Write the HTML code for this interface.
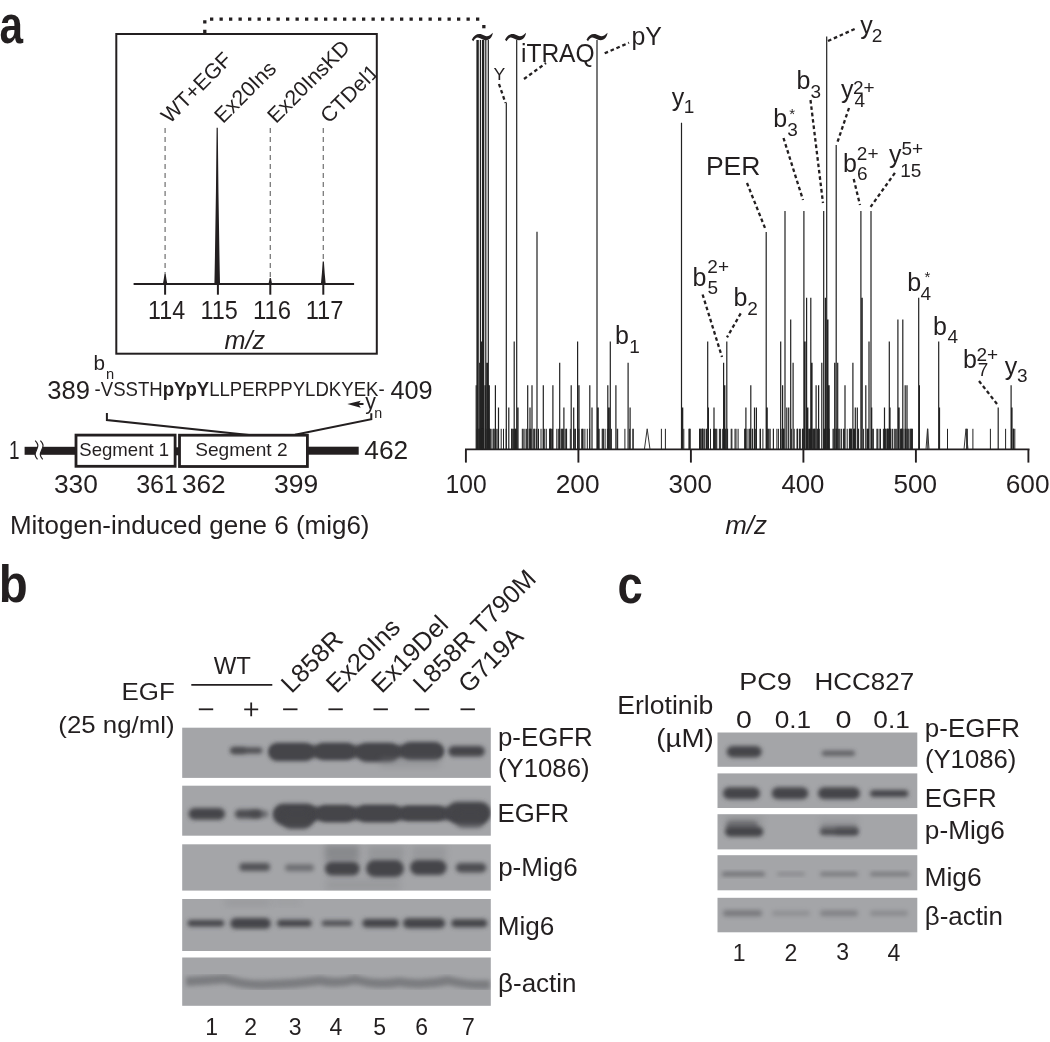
<!DOCTYPE html>
<html><head><meta charset="utf-8"><title>Figure</title>
<style>
html,body{margin:0;padding:0;background:#fff;}
svg{display:block;will-change:transform;font-family:"Liberation Sans",Arial,Helvetica,sans-serif;}
</style></head><body>
<svg width="1050" height="1042" viewBox="0 0 1050 1042">
<defs>
<clipPath id="cbB"><rect x="182.2" y="727.7" width="308.6" height="50.2"/><rect x="182.2" y="785.7" width="308.6" height="50"/><rect x="182.2" y="844.3" width="308.6" height="46.3"/><rect x="182.2" y="899" width="308.6" height="52"/><rect x="182.2" y="957.5" width="308.6" height="48.3"/></clipPath>
<clipPath id="cbC"><rect x="717.5" y="732.5" width="199.8" height="34.3"/><rect x="717.5" y="773.4" width="199.8" height="34.6"/><rect x="717.5" y="814.2" width="199.8" height="35.2"/><rect x="717.5" y="855.2" width="199.8" height="35.1"/><rect x="717.5" y="897.8" width="199.8" height="34.5"/></clipPath>
<clipPath id="cb"><rect x="117" y="34" width="259" height="320"/></clipPath>
<filter id="bl" x="-30%" y="-80%" width="160%" height="260%"><feGaussianBlur stdDeviation="1.9"/></filter>
<filter id="bl2" x="-30%" y="-50%" width="160%" height="200%"><feGaussianBlur stdDeviation="3"/></filter>
</defs>
<rect width="1050" height="1042" fill="#fff"/>
<g id="blots">
<rect x="182.2" y="727.7" width="308.6" height="50.2" fill="#a4a5a8"/>
<rect x="182.2" y="785.7" width="308.6" height="50" fill="#a4a5a8"/>
<rect x="182.2" y="844.3" width="308.6" height="46.3" fill="#a4a5a8"/>
<rect x="182.2" y="899" width="308.6" height="52" fill="#a4a5a8"/>
<rect x="182.2" y="957.5" width="308.6" height="48.3" fill="#a4a5a8"/>
<g clip-path="url(#cbB)">
<rect x="230.3" y="747.6" width="32.0" height="5.8" rx="2.9" ry="2.9" fill="#444548" opacity="0.9" filter="url(#bl)"/>
<rect x="231.0" y="747.2" width="15.0" height="6.8" rx="3.4" ry="3.4" fill="#444548" opacity="0.5" filter="url(#bl)"/>
<rect x="270.0" y="745.5" width="173.0" height="12.0" rx="6.0" ry="6.0" fill="#444548" opacity="1.0" filter="url(#bl)"/>
<rect x="268.4" y="742.9" width="45.6" height="18.2" rx="9.1" ry="9.1" fill="#444548" opacity="1.0" filter="url(#bl)"/>
<rect x="315.0" y="743.0" width="40.2" height="17.0" rx="8.5" ry="8.5" fill="#444548" opacity="1.0" filter="url(#bl)"/>
<rect x="356.8" y="743.0" width="42.6" height="19.0" rx="9.5" ry="9.5" fill="#444548" opacity="1.0" filter="url(#bl)"/>
<rect x="401.0" y="742.0" width="42.6" height="18.0" rx="9.0" ry="9.0" fill="#444548" opacity="1.0" filter="url(#bl)"/>
<rect x="448.2" y="746.0" width="36.6" height="10.6" rx="5.3" ry="5.3" fill="#444548" opacity="1.0" filter="url(#bl)"/>
<rect x="380" y="758" width="60" height="9" fill="#7d7e81" opacity="0.35" filter="url(#bl2)"/>
<rect x="188.5" y="808.1" width="36.6" height="11.6" rx="5.8" ry="5.8" fill="#444548" opacity="1.0" filter="url(#bl)"/>
<rect x="234.9" y="809.5" width="27.1" height="9.0" rx="4.5" ry="4.5" fill="#444548" opacity="0.9" filter="url(#bl)"/>
<rect x="250.0" y="810.5" width="18.4" height="7.0" rx="3.5" ry="3.5" fill="#444548" opacity="0.6" filter="url(#bl)"/>
<rect x="275.0" y="807.0" width="213.0" height="13.0" rx="6.5" ry="6.5" fill="#444548" opacity="1.0" filter="url(#bl)"/>
<rect x="273.0" y="803.8" width="44.2" height="21.4" rx="10.7" ry="10.7" fill="#444548" opacity="1.0" filter="url(#bl)"/>
<rect x="282.0" y="812.0" width="30.0" height="17.0" rx="8.5" ry="8.5" fill="#444548" opacity="0.9" filter="url(#bl)"/>
<rect x="317.0" y="805.3" width="38.0" height="16.7" rx="8.4" ry="8.4" fill="#444548" opacity="1.0" filter="url(#bl)"/>
<rect x="356.8" y="805.0" width="44.2" height="17.0" rx="8.5" ry="8.5" fill="#444548" opacity="1.0" filter="url(#bl)"/>
<rect x="401.0" y="806.0" width="44.0" height="14.6" rx="7.3" ry="7.3" fill="#444548" opacity="1.0" filter="url(#bl)"/>
<rect x="446.7" y="801.7" width="44.2" height="21.9" rx="10.9" ry="10.9" fill="#444548" opacity="1.0" filter="url(#bl)"/>
<rect x="455.0" y="812.0" width="30.0" height="16.0" rx="8.0" ry="8.0" fill="#444548" opacity="0.7" filter="url(#bl)"/>
<rect x="325" y="845" width="34" height="16" fill="#7d7e81" opacity="0.7" filter="url(#bl2)"/>
<rect x="368" y="846" width="36" height="14" fill="#7d7e81" opacity="0.35" filter="url(#bl2)"/>
<rect x="412" y="846" width="34" height="14" fill="#7d7e81" opacity="0.3" filter="url(#bl2)"/>
<rect x="326" y="879" width="74" height="12" fill="#7d7e81" opacity="0.25" filter="url(#bl2)"/>
<rect x="239.4" y="863.0" width="30.6" height="8.0" rx="4.0" ry="4.0" fill="#444548" opacity="0.85" filter="url(#bl)"/>
<rect x="285.0" y="864.3" width="29.0" height="7.0" rx="3.5" ry="3.5" fill="#444548" opacity="0.55" filter="url(#bl)"/>
<rect x="324.8" y="861.7" width="35.0" height="13.7" rx="6.8" ry="6.8" fill="#444548" opacity="1.0" filter="url(#bl)"/>
<rect x="366.0" y="860.0" width="38.0" height="17.0" rx="8.5" ry="8.5" fill="#444548" opacity="1.0" filter="url(#bl)"/>
<rect x="410.0" y="860.0" width="36.7" height="15.0" rx="7.5" ry="7.5" fill="#444548" opacity="1.0" filter="url(#bl)"/>
<rect x="455.8" y="863.0" width="30.5" height="9.4" rx="4.7" ry="4.7" fill="#444548" opacity="0.9" filter="url(#bl)"/>
<rect x="225" y="899" width="45" height="7" fill="#7d7e81" opacity="0.25" filter="url(#bl2)"/>
<rect x="275" y="899" width="25" height="6" fill="#7d7e81" opacity="0.15" filter="url(#bl2)"/>
<rect x="187.6" y="920.0" width="36.6" height="6.6" rx="3.3" ry="3.3" fill="#444548" opacity="1.0" filter="url(#bl)"/>
<rect x="230.3" y="918.0" width="40.5" height="10.8" rx="5.4" ry="5.4" fill="#444548" opacity="1.0" filter="url(#bl)"/>
<rect x="277.0" y="919.8" width="34.7" height="7.0" rx="3.5" ry="3.5" fill="#444548" opacity="1.0" filter="url(#bl)"/>
<rect x="321.7" y="920.6" width="30.5" height="5.4" rx="2.7" ry="2.7" fill="#444548" opacity="0.9" filter="url(#bl)"/>
<rect x="362.3" y="919.0" width="36.5" height="8.6" rx="4.3" ry="4.3" fill="#444548" opacity="1.0" filter="url(#bl)"/>
<rect x="403.0" y="918.3" width="42.2" height="10.0" rx="5.0" ry="5.0" fill="#444548" opacity="1.0" filter="url(#bl)"/>
<rect x="451.3" y="919.3" width="35.9" height="8.0" rx="4.0" ry="4.0" fill="#444548" opacity="1.0" filter="url(#bl)"/>
<path d="M186,981.5 Q205,980.5 225,979 Q247,986 268,984.5 Q295,984 320,980.5 Q338,984.5 355,979.5 Q378,986 399,982 Q423,986 448,980.5 Q470,986 490,984.5" fill="none" stroke="#77787b" stroke-width="9" opacity="0.9" filter="url(#bl)"/>
</g>
<rect x="717.5" y="732.5" width="199.8" height="34.3" fill="#a4a5a8"/>
<rect x="717.5" y="773.4" width="199.8" height="34.6" fill="#a4a5a8"/>
<rect x="717.5" y="814.2" width="199.8" height="35.2" fill="#a4a5a8"/>
<rect x="717.5" y="855.2" width="199.8" height="35.1" fill="#a4a5a8"/>
<rect x="717.5" y="897.8" width="199.8" height="34.5" fill="#a4a5a8"/>
<g clip-path="url(#cbC)">
<rect x="726.7" y="746.0" width="35.0" height="11.5" rx="5.8" ry="5.8" fill="#444548" opacity="1.0" filter="url(#bl)"/>
<rect x="821.7" y="750.8" width="33.3" height="5.0" rx="2.5" ry="2.5" fill="#444548" opacity="0.75" filter="url(#bl)"/>
<rect x="723.0" y="787.3" width="37.0" height="12.0" rx="6.0" ry="6.0" fill="#444548" opacity="1.0" filter="url(#bl)"/>
<rect x="771.7" y="787.3" width="36.6" height="12.0" rx="6.0" ry="6.0" fill="#444548" opacity="1.0" filter="url(#bl)"/>
<rect x="818.0" y="787.3" width="42.0" height="12.0" rx="6.0" ry="6.0" fill="#444548" opacity="1.0" filter="url(#bl)"/>
<rect x="870.0" y="790.0" width="38.3" height="7.0" rx="3.5" ry="3.5" fill="#444548" opacity="1.0" filter="url(#bl)"/>
<rect x="725" y="816" width="38" height="12" fill="#7d7e81" opacity="0.3" filter="url(#bl2)"/>
<rect x="726.0" y="820.5" width="32.0" height="10.5" rx="5.2" ry="5.2" fill="#444548" opacity="0.5" filter="url(#bl)"/>
<rect x="725.0" y="826.7" width="38.3" height="10.0" rx="5.0" ry="5.0" fill="#444548" opacity="1.0" filter="url(#bl)"/>
<rect x="821.0" y="824.0" width="36.0" height="7.0" rx="3.5" ry="3.5" fill="#444548" opacity="0.3" filter="url(#bl)"/>
<rect x="820.0" y="828.2" width="38.3" height="7.0" rx="3.5" ry="3.5" fill="#444548" opacity="0.9" filter="url(#bl)"/>
<rect x="835.0" y="827.2" width="23.3" height="7.3" rx="3.6" ry="3.6" fill="#444548" opacity="0.5" filter="url(#bl)"/>
<rect x="820" y="818" width="38" height="11" fill="#7d7e81" opacity="0.22" filter="url(#bl2)"/>
<rect x="722.0" y="872.3" width="43.0" height="3.7" rx="1.9" ry="1.9" fill="#444548" opacity="0.6" filter="url(#bl)"/>
<rect x="777.0" y="872.5" width="28.0" height="3.0" rx="1.5" ry="1.5" fill="#444548" opacity="0.35" filter="url(#bl)"/>
<rect x="820.0" y="872.2" width="38.0" height="3.8" rx="1.9" ry="1.9" fill="#444548" opacity="0.5" filter="url(#bl)"/>
<rect x="870.0" y="872.2" width="40.0" height="3.8" rx="1.9" ry="1.9" fill="#444548" opacity="0.5" filter="url(#bl)"/>
<rect x="723.0" y="910.3" width="39.0" height="6.0" rx="3.0" ry="3.0" fill="#444548" opacity="0.45" filter="url(#bl)"/>
<rect x="772.0" y="910.8" width="38.0" height="5.0" rx="2.5" ry="2.5" fill="#444548" opacity="0.22" filter="url(#bl)"/>
<rect x="820.0" y="910.3" width="38.0" height="6.0" rx="3.0" ry="3.0" fill="#444548" opacity="0.35" filter="url(#bl)"/>
<rect x="870.0" y="910.8" width="38.0" height="5.0" rx="2.5" ry="2.5" fill="#444548" opacity="0.28" filter="url(#bl)"/>
</g>
</g>
<g id="fg" fill="#231f20">
<text x="0" y="0" font-size="51" font-weight="bold" transform="translate(-0.6,43) scale(0.83,1)">a</text>
<text x="0" y="0" font-size="51" font-weight="bold" transform="translate(-1.3,602.4) scale(0.93,1)">b</text>
<text x="0" y="0" font-size="51" font-weight="bold" transform="translate(617.5,602.6) scale(0.89,1)">c</text>
<path d="M204.8,33 V19.2 H483.5" fill="none" stroke="#231f20" stroke-width="3.3" stroke-dasharray="3.3 6.2"/>
<rect x="482.2" y="25" width="3.3" height="3.3" fill="#231f20"/>
<rect x="116.3" y="34" width="260.5" height="319.7" fill="none" stroke="#231f20" stroke-width="2"/>
<line x1="133.6" y1="284.1" x2="354.1" y2="284.1" stroke="#231f20" stroke-width="2"/>
<line x1="165.1" y1="284" x2="165.1" y2="294.7" stroke="#231f20" stroke-width="2"/>
<text x="148.10" y="319.20" font-size="25" textLength="37.04" lengthAdjust="spacingAndGlyphs">114</text>
<line x1="217.9" y1="284" x2="217.9" y2="294.7" stroke="#231f20" stroke-width="2"/>
<text x="200.50" y="318.96" font-size="25" textLength="37.35" lengthAdjust="spacingAndGlyphs">115</text>
<line x1="270.3" y1="284" x2="270.3" y2="294.7" stroke="#231f20" stroke-width="2"/>
<text x="252.90" y="318.96" font-size="25" textLength="38.00" lengthAdjust="spacingAndGlyphs">116</text>
<line x1="323.3" y1="284" x2="323.3" y2="294.7" stroke="#231f20" stroke-width="2"/>
<text x="305.70" y="319.20" font-size="25" textLength="37.76" lengthAdjust="spacingAndGlyphs">117</text>
<text x="224.48" y="348.60" font-size="25.5" font-style="italic" textLength="40.57" lengthAdjust="spacingAndGlyphs">m/z</text>
<line x1="165.1" y1="128" x2="165.1" y2="274" stroke="#7a7a7a" stroke-width="1.3" stroke-dasharray="5 4"/>
<line x1="270.3" y1="128" x2="270.3" y2="278" stroke="#7a7a7a" stroke-width="1.3" stroke-dasharray="5 4"/>
<line x1="323.3" y1="128" x2="323.3" y2="261.6" stroke="#7a7a7a" stroke-width="1.3" stroke-dasharray="5 4"/>
<path d="M162.9,284 Q163.9,279.0 164.5,274 L165.7,274 Q166.29999999999998,279.0 167.29999999999998,284 Z" fill="#231f20"/>
<path d="M214.39999999999998,284 Q216.0,205.85 216.6,127.7 L217.79999999999998,127.7 Q218.39999999999998,205.85 220.0,284 Z" fill="#231f20"/>
<path d="M268.5,284 Q269.1,281.0 269.7,278 L270.90000000000003,278 Q271.5,281.0 272.1,284 Z" fill="#231f20"/>
<path d="M320.90000000000003,284 Q322.1,272.8 322.7,261.6 L323.90000000000003,261.6 Q324.5,272.8 325.7,284 Z" fill="#231f20"/>
<g clip-path="url(#cb)">
<text x="0" y="0" font-size="21.3" transform="translate(169.7,124.3) rotate(-45)">WT+EGF</text>
<text x="0" y="0" font-size="21.3" transform="translate(223,124.3) rotate(-45)">Ex20Ins</text>
<text x="0" y="0" font-size="21.3" transform="translate(275.9,124.3) rotate(-45)">Ex20InsKD</text>
<text x="0" y="0" font-size="21.3" transform="translate(329.1,124.3) rotate(-45)">CTDel1</text>
</g>
<line x1="465.0" y1="449.4" x2="1029.5" y2="449.4" stroke="#231f20" stroke-width="1.9"/>
<line x1="465.9" y1="449.4" x2="465.9" y2="462.6" stroke="#231f20" stroke-width="1.9"/>
<text x="445.62" y="493.05" font-size="26" textLength="41.10" lengthAdjust="spacingAndGlyphs">100</text>
<line x1="578.4" y1="449.4" x2="578.4" y2="462.6" stroke="#231f20" stroke-width="1.9"/>
<text x="555.69" y="493.05" font-size="26" textLength="43.82" lengthAdjust="spacingAndGlyphs">200</text>
<line x1="690.9" y1="449.4" x2="690.9" y2="462.6" stroke="#231f20" stroke-width="1.9"/>
<text x="668.51" y="493.05" font-size="26" textLength="43.51" lengthAdjust="spacingAndGlyphs">300</text>
<line x1="803.4" y1="449.4" x2="803.4" y2="462.6" stroke="#231f20" stroke-width="1.9"/>
<text x="781.40" y="493.05" font-size="26" textLength="43.11" lengthAdjust="spacingAndGlyphs">400</text>
<line x1="915.9" y1="449.4" x2="915.9" y2="462.6" stroke="#231f20" stroke-width="1.9"/>
<text x="893.46" y="493.05" font-size="26" textLength="43.56" lengthAdjust="spacingAndGlyphs">500</text>
<line x1="1028.4" y1="449.4" x2="1028.4" y2="462.6" stroke="#231f20" stroke-width="1.9"/>
<text x="1005.68" y="493.05" font-size="26" textLength="43.84" lengthAdjust="spacingAndGlyphs">600</text>
<text x="725.27" y="533.90" font-size="26" font-style="italic" textLength="41.79" lengthAdjust="spacingAndGlyphs">m/z</text>
<path d="M477.6,449.4V40 M483.1,449.4V40" stroke="#222" stroke-width="2.4" fill="none"/>
<path d="M480.4,449.4V40M485.8,449.4V40M488.3,449.4V40M479.7,449.4V362.7M481.5,449.4V341.5M485,449.4V385.3M487.1,449.4V362.7M489.3,449.4V385.3M476.2,449.4V385.3M495.4,449.4V385.3M498.5,449.4V407.5M506.3,449.4V102.7M508.8,449.4V407.5M514.2,449.4V341.5M516.7,449.4V40M518,449.4V407.5M527.7,449.4V385.3M530,449.4V407.5M532,449.4V385.3M537,449.4V231.7M543.3,449.4V385.3M552.9,449.4V385.3M559.7,449.4V362.7M563.9,449.4V407.5M571.2,449.4V385.3M573.7,449.4V407.5M577.6,449.4V341.5M579,449.4V385.3M589.8,449.4V385.3M592,449.4V407.5M597,449.4V40M598.2,449.4V407.5M607.8,449.4V385.3M609,449.4V407.5M610.3,449.4V341.5M615.9,449.4V385.3M628.1,449.4V362.7M630.1,449.4V407.5M681.5,449.4V122.7M682.7,449.4V407.5M707.7,449.4V341.5M708.4,449.4V407.5M714,449.4V407.5M723.6,449.4V362.7M724.8,449.4V385.3M726.8,449.4V341.5M745.9,449.4V407.5M750.8,449.4V385.3M754.5,449.4V407.5M756.4,449.4V407.5M766.2,449.4V232M767.2,449.4V407.5M780.7,449.4V341.5M782.6,449.4V385.3M785,449.4V211M786.8,449.4V407.5M788.7,449.4V407.5M790.7,449.4V319.6M793.1,449.4V362.7M803.9,449.4V211M805.1,449.4V341.5M806.6,449.4V297.7M807.8,449.4V407.5M810.8,449.4V297.7M812,449.4V362.7M816.1,449.4V385.3M818.6,449.4V385.3M821.8,449.4V362.7M823.7,449.4V211M825.4,449.4V297.7M826.7,449.4V36.5M827.9,449.4V319.6M829.1,449.4V385.3M834.7,449.4V362.7M836.2,449.4V145M837.7,449.4V362.7M845,449.4V385.3M852.9,449.4V362.7M855.3,449.4V407.5M857.3,449.4V407.5M860.9,449.4V211M862.2,449.4V297.7M865.8,449.4V385.3M869,449.4V341.5M871,449.4V211M871.7,449.4V407.5M884.5,449.4V407.5M889.3,449.4V341.5M890,449.4V407.5M897.9,449.4V319.6M899.1,449.4V407.5M902.8,449.4V319.6M905.2,449.4V385.3M907,449.4V385.3M918.7,449.4V297.7M919.4,449.4V385.3M938.7,449.4V341.5M939.5,449.4V407.5M998.2,449.4V407.5M1011.1,449.4V385.3M1012,449.4V407.5" stroke="#222" stroke-width="1.2" fill="none"/>
<path d="M516.7,449.4V428.8M493.9,449.4V428.8M559.9,449.4V428.8M483.6,449.4V428.8M544.7,449.4V428.8M522.3,449.4V428.8M481.7,449.4V428.8M541.0,449.4V428.8M478.9,449.4V428.8M531.2,449.4V428.8M483.2,449.4V428.8M486.0,449.4V428.8M530.0,449.4V428.8M583.1,449.4V428.8M490.3,449.4V428.8M503.5,449.4V428.8M556.8,449.4V428.8M599.1,449.4V428.8M550.2,449.4V428.8M526.4,449.4V428.8M602.9,449.4V428.8M480.1,449.4V428.8M587.3,449.4V428.8M512.2,449.4V428.8M493.0,449.4V428.8M489.5,449.4V428.8M514.7,449.4V428.8M581.7,449.4V428.8M497.9,449.4V428.8M550.8,449.4V428.8M558.3,449.4V428.8M523.2,449.4V428.8M546.3,449.4V428.8M482.3,449.4V428.8M481.9,449.4V428.8M501.2,449.4V428.8M563.8,449.4V428.8M530.4,449.4V428.8M515.5,449.4V428.8M551.3,449.4V428.8M533.8,449.4V428.8M513.6,449.4V428.8M578.9,449.4V428.8M566.3,449.4V428.8M506.2,449.4V428.8M549.8,449.4V428.8M543.3,449.4V428.8M589.5,449.4V428.8M570.3,449.4V428.8M512.0,449.4V428.8M603.4,449.4V428.8M489.6,449.4V428.8M529.2,449.4V428.8M573.9,449.4V428.8M494.1,449.4V428.8M538.5,449.4V428.8M479.2,449.4V428.8M562.2,449.4V428.8M574.9,449.4V428.8M549.6,449.4V428.8M589.6,449.4V428.8M515.4,449.4V428.8M565.8,449.4V428.8M552.5,449.4V428.8M550.5,449.4V428.8M534.2,449.4V428.8M584.9,449.4V428.8M598.7,449.4V428.8M536.6,449.4V428.8M561.7,449.4V428.8M482.0,449.4V428.8M566.6,449.4V428.8M559.4,449.4V428.8M605.1,449.4V428.8M582.5,449.4V428.8M511.6,449.4V428.8M524.9,449.4V428.8M562.3,449.4V428.8M477.0,449.4V428.8M534.9,449.4V428.8M496.2,449.4V428.8M489.5,449.4V428.8M481.8,449.4V428.8M575.4,449.4V428.8M491.1,449.4V428.8M602.2,449.4V428.8M609.0,449.4V428.8M611.4,449.4V428.8M607.4,449.4V428.8M617.2,449.4V428.8M617.7,449.4V428.8M624.9,449.4V428.8M632.9,449.4V428.8M633.2,449.4V428.8M629.7,449.4V428.8M661.4,449.4V428.8M665.4,449.4V428.8M683.8,449.4V428.8M699.5,449.4V428.8M689.0,449.4V428.8M689.3,449.4V428.8M690.0,449.4V428.8M690.0,449.4V428.8M719.4,449.4V428.8M723.6,449.4V428.8M710.5,449.4V428.8M700.2,449.4V428.8M716.8,449.4V428.8M714.8,449.4V428.8M722.7,449.4V428.8M738.1,449.4V428.8M727.6,449.4V428.8M720.6,449.4V428.8M724.7,449.4V428.8M727.0,449.4V428.8M702.2,449.4V428.8M736.0,449.4V428.8M731.2,449.4V428.8M735.0,449.4V428.8M731.9,449.4V428.8M715.7,449.4V428.8M716.0,449.4V428.8M704.1,449.4V428.8M725.4,449.4V428.8M702.5,449.4V428.8M702.7,449.4V428.8M708.4,449.4V428.8M706.5,449.4V428.8M713.6,449.4V428.8M702.1,449.4V428.8M700.0,449.4V428.8M706.1,449.4V428.8M704.1,449.4V428.8M714.5,449.4V428.8M701.0,449.4V428.8M760.5,449.4V428.8M755.3,449.4V428.8M746.0,449.4V428.8M748.0,449.4V428.8M749.9,449.4V428.8M750.3,449.4V428.8M745.5,449.4V428.8M760.0,449.4V428.8M762.9,449.4V428.8M752.3,449.4V428.8M752.7,449.4V428.8M744.7,449.4V428.8M745.0,449.4V428.8M749.9,449.4V428.8M770.2,449.4V428.8M776.9,449.4V428.8M768.9,449.4V428.8M767.3,449.4V428.8M778.4,449.4V428.8M773.3,449.4V428.8M768.8,449.4V428.8M773.5,449.4V428.8M783.6,449.4V428.8M850.8,449.4V428.8M911.1,449.4V428.8M895.7,449.4V428.8M873.3,449.4V428.8M815.0,449.4V428.8M829.1,449.4V428.8M802.4,449.4V428.8M883.4,449.4V428.8M851.4,449.4V428.8M884.4,449.4V428.8M824.2,449.4V428.8M809.9,449.4V428.8M888.7,449.4V428.8M912.0,449.4V428.8M894.3,449.4V428.8M888.0,449.4V428.8M889.7,449.4V428.8M879.1,449.4V428.8M810.4,449.4V428.8M849.4,449.4V428.8M827.6,449.4V428.8M783.9,449.4V428.8M783.7,449.4V428.8M817.4,449.4V428.8M814.7,449.4V428.8M872.8,449.4V428.8M908.2,449.4V428.8M839.9,449.4V428.8M905.6,449.4V428.8M912.4,449.4V428.8M908.0,449.4V428.8M828.9,449.4V428.8M809.5,449.4V428.8M810.4,449.4V428.8M806.4,449.4V428.8M807.4,449.4V428.8M863.6,449.4V428.8M900.6,449.4V428.8M892.6,449.4V428.8M844.2,449.4V428.8M867.5,449.4V428.8M887.2,449.4V428.8M791.4,449.4V428.8M868.5,449.4V428.8M901.9,449.4V428.8M884.8,449.4V428.8M880.5,449.4V428.8M844.1,449.4V428.8M803.9,449.4V428.8M885.7,449.4V428.8M824.6,449.4V428.8M887.3,449.4V428.8M910.2,449.4V428.8M833.0,449.4V428.8M833.8,449.4V428.8M906.9,449.4V428.8M877.1,449.4V428.8M802.8,449.4V428.8M797.0,449.4V428.8M800.3,449.4V428.8M901.3,449.4V428.8M888.1,449.4V428.8M799.6,449.4V428.8M890.8,449.4V428.8M911.4,449.4V428.8M868.1,449.4V428.8M827.0,449.4V428.8M853.5,449.4V428.8M797.6,449.4V428.8M781.9,449.4V428.8M910.1,449.4V428.8M867.1,449.4V428.8M850.6,449.4V428.8M905.1,449.4V428.8M838.1,449.4V428.8M896.8,449.4V428.8M890.7,449.4V428.8M808.3,449.4V428.8M813.7,449.4V428.8M819.3,449.4V428.8M812.2,449.4V428.8M858.6,449.4V428.8M814.8,449.4V428.8M836.1,449.4V428.8M797.6,449.4V428.8M901.9,449.4V428.8M827.4,449.4V428.8M841.4,449.4V428.8M858.2,449.4V428.8M901.2,449.4V428.8M836.4,449.4V428.8M903.0,449.4V428.8M847.2,449.4V428.8M851.3,449.4V428.8M850.1,449.4V428.8M782.5,449.4V428.8M839.0,449.4V428.8M804.5,449.4V428.8M780.5,449.4V428.8M887.1,449.4V428.8M803.1,449.4V428.8M843.4,449.4V428.8M877.2,449.4V428.8M854.6,449.4V428.8M823.7,449.4V428.8M849.5,449.4V428.8M854.4,449.4V428.8M885.1,449.4V428.8M794.2,449.4V428.8M855.1,449.4V428.8M813.3,449.4V428.8M817.1,449.4V428.8M927.8,449.4V428.8M947.5,449.4V428.8M966.7,449.4V428.8M967.3,449.4V428.8M972.9,449.4V428.8M990.4,449.4V428.8M1005.6,449.4V428.8M1013.5,449.4V428.8M1013.6,449.4V428.8M1014.8,449.4V428.8M1013.2,449.4V428.8" stroke="#222" stroke-width="1" fill="none"/>
<path d="M644.4,449.4L647.2,428.8L650,449.4M926,449.4L927.5,428.8L929,449.4M964,449.4L966,428.8L968,449.4" stroke="#333" stroke-width="1" fill="none"/>
<path d="M471.8,39.8 C474.3,33.8 479.8,32.4 484.3,35.6 C487.3,37.2 490.3,35.5 492.8,32.8 C492.6,36.2 490.3,40.2 485.8,40.2 C482.3,40.2 479.8,37.6 477.8,37.6 C475.8,37.6 474.3,39.6 473.40000000000003,41.2 Z" fill="#231f20"/>
<path d="M505,39.8 C507.5,33.8 513,32.4 517.5,35.6 C520.5,37.2 523.5,35.5 526,32.8 C525.8,36.2 523.5,40.2 519,40.2 C515.5,40.2 513,37.6 511,37.6 C509,37.6 507.5,39.6 506.6,41.2 Z" fill="#231f20"/>
<path d="M586.5,39.8 C589.0,33.8 594.5,32.4 599.0,35.6 C602.0,37.2 605.0,35.5 607.5,32.8 C607.3,36.2 605.0,40.2 600.5,40.2 C597.0,40.2 594.5,37.6 592.5,37.6 C590.5,37.6 589.0,39.6 588.1,41.2 Z" fill="#231f20"/>
<text x="493.63" y="80.00" font-size="17" textLength="11.75" lengthAdjust="spacingAndGlyphs">Y</text>
<line x1="499" y1="84" x2="505.5" y2="103" stroke="#231f20" stroke-width="2.3" stroke-dasharray="3.6 2.8"/>
<text x="520.93" y="61.52" font-size="25" textLength="73.67" lengthAdjust="spacingAndGlyphs">iTRAQ</text>
<line x1="524" y1="79" x2="546" y2="63" stroke="#231f20" stroke-width="2.3" stroke-dasharray="3.6 2.8"/>
<text x="631.39" y="44.81" font-size="25" textLength="30.46" lengthAdjust="spacingAndGlyphs">pY</text>
<line x1="604.7" y1="53.3" x2="629" y2="42.7" stroke="#231f20" stroke-width="2.3" stroke-dasharray="3.6 2.8"/>
<text x="671.64" y="106.11" font-size="25">y</text>
<text x="683.85" y="113.30" font-size="19">1</text>
<text x="614.99" y="344.16" font-size="25">b</text>
<text x="629.15" y="353.00" font-size="19">1</text>
<text x="692.59" y="286.06" font-size="25">b</text>
<text x="707.54" y="294.41" font-size="19">5</text>
<text x="707.34" y="272.87" font-size="19">2+</text>
<line x1="702.6" y1="294.5" x2="722" y2="357" stroke="#231f20" stroke-width="2.3" stroke-dasharray="3.6 2.8"/>
<text x="733.59" y="306.36" font-size="25">b</text>
<text x="747.34" y="315.30" font-size="19">2</text>
<line x1="740.7" y1="313.4" x2="727" y2="337.4" stroke="#231f20" stroke-width="2.3" stroke-dasharray="3.6 2.8"/>
<text x="705.95" y="175.40" font-size="25" textLength="54.51" lengthAdjust="spacingAndGlyphs">PER</text>
<line x1="747" y1="183" x2="765" y2="228" stroke="#231f20" stroke-width="2.3" stroke-dasharray="3.6 2.8"/>
<text x="773.19" y="127.46" font-size="25">b</text>
<text x="787.28" y="135.81" font-size="19">3</text>
<text x="789.36" y="119.02" font-size="15">*</text>
<line x1="783.5" y1="138" x2="803" y2="200" stroke="#231f20" stroke-width="2.3" stroke-dasharray="3.6 2.8"/>
<text x="796.39" y="89.46" font-size="25">b</text>
<text x="810.58" y="97.81" font-size="19">3</text>
<line x1="810.5" y1="100" x2="823" y2="203" stroke="#231f20" stroke-width="2.3" stroke-dasharray="3.6 2.8"/>
<text x="860.24" y="33.81" font-size="25">y</text>
<text x="871.64" y="42.20" font-size="19">2</text>
<line x1="828" y1="41" x2="857" y2="28" stroke="#231f20" stroke-width="2.3" stroke-dasharray="3.6 2.8"/>
<text x="840.94" y="98.21" font-size="25">y</text>
<text x="854.56" y="106.50" font-size="19">4</text>
<text x="853.04" y="94.27" font-size="19">2+</text>
<line x1="849" y1="108" x2="837.5" y2="142" stroke="#231f20" stroke-width="2.3" stroke-dasharray="3.6 2.8"/>
<text x="842.89" y="171.76" font-size="25">b</text>
<text x="857.04" y="180.21" font-size="19">6</text>
<text x="856.84" y="159.87" font-size="19">2+</text>
<line x1="853.7" y1="179.1" x2="860" y2="205" stroke="#231f20" stroke-width="2.3" stroke-dasharray="3.6 2.8"/>
<text x="889.04" y="163.11" font-size="25">y</text>
<text x="900.25" y="176.71" font-size="19">15</text>
<text x="901.54" y="155.07" font-size="19">5+</text>
<line x1="894.9" y1="172.9" x2="870.6" y2="206.9" stroke="#231f20" stroke-width="2.3" stroke-dasharray="3.6 2.8"/>
<text x="907.29" y="291.46" font-size="25">b</text>
<text x="920.56" y="300.30" font-size="19">4</text>
<text x="924.56" y="282.32" font-size="15">*</text>
<text x="932.99" y="335.46" font-size="25">b</text>
<text x="947.56" y="343.00" font-size="19">4</text>
<text x="963.09" y="368.46" font-size="25">b</text>
<text x="977.63" y="376.00" font-size="19">7</text>
<text x="976.44" y="361.27" font-size="19">2+</text>
<line x1="979" y1="381" x2="997" y2="404" stroke="#231f20" stroke-width="2.3" stroke-dasharray="3.6 2.8"/>
<text x="1004.74" y="374.51" font-size="25">y</text>
<text x="1016.98" y="382.01" font-size="19">3</text>
<text x="47.25" y="398.56" font-size="25" textLength="42.64" lengthAdjust="spacingAndGlyphs">389</text>
<text x="94.6" y="396" font-size="20" textLength="290" lengthAdjust="spacingAndGlyphs">-VSSTH<tspan font-weight="bold">pYpY</tspan>LLPERPPYLDKYEK-</text>
<text x="390.43" y="398.96" font-size="25" textLength="42.26" lengthAdjust="spacingAndGlyphs">409</text>
<text x="93.47" y="369.90" font-size="20.7">b</text>
<text x="105.92" y="378.60" font-size="14.7">n</text>
<text x="365.25" y="409.26" font-size="21.4">y</text>
<text x="374.35" y="417.70" font-size="14.3">n</text>
<path d="M347.3,404 L360.7,400.7 L358.5,404 L360.7,407.7 Z" fill="#231f20"/><line x1="358" y1="404" x2="363.5" y2="404" stroke="#231f20" stroke-width="2"/>
<path d="M106.9,413.1 V420 L249,435" fill="none" stroke="#231f20" stroke-width="2"/>
<path d="M371.3,413.3 V419.3 L295,434.8" fill="none" stroke="#231f20" stroke-width="2"/>
<rect x="24.6" y="446.8" width="51" height="8" fill="#231f20"/>
<rect x="307.5" y="446.7" width="51.2" height="8" fill="#231f20"/>
<rect x="175.5" y="447.3" width="3.5" height="8" fill="#231f20"/>
<path d="M35.2,440.6 C38.5,444 38.5,446 36.5,450 C34.5,454 34.5,456 37.5,459.4 L42.7,459.4 C39.7,456 39.7,454 41.7,450 C43.7,446 43.7,444 40.4,440.6 Z" fill="#fff"/>
<path d="M35.2,440.6 C38.5,444 38.5,446 36.5,450 C34.5,454 34.5,456 37.5,459.4 M40.4,440.6 C43.7,444 43.7,446 41.7,450 C39.7,454 39.7,456 42.7,459.4" fill="none" stroke="#231f20" stroke-width="1.2"/>
<rect x="76" y="435.1" width="99.1" height="31.2" fill="#fff" stroke="#231f20" stroke-width="2.8"/>
<rect x="179.5" y="435.2" width="127.9" height="31.3" fill="#fff" stroke="#231f20" stroke-width="2.8"/>
<text x="79.26" y="456.40" font-size="18.5" textLength="89.94" lengthAdjust="spacingAndGlyphs">Segment 1</text>
<text x="195.16" y="456.40" font-size="18.5" textLength="92.47" lengthAdjust="spacingAndGlyphs">Segment 2</text>
<text x="9.00" y="458.90" font-size="25" textLength="10.53" lengthAdjust="spacingAndGlyphs">1</text>
<text x="364.33" y="458.76" font-size="25" textLength="43.93" lengthAdjust="spacingAndGlyphs">462</text>
<text x="53.93" y="493.15" font-size="25.5" textLength="43.87" lengthAdjust="spacingAndGlyphs">330</text>
<text x="136.13" y="493.15" font-size="25.5" textLength="41.92" lengthAdjust="spacingAndGlyphs">361</text>
<text x="181.93" y="493.15" font-size="25.5" textLength="43.75" lengthAdjust="spacingAndGlyphs">362</text>
<text x="274.03" y="493.15" font-size="25.5" textLength="44.18" lengthAdjust="spacingAndGlyphs">399</text>
<text x="9.95" y="534.12" font-size="25" textLength="359.60" lengthAdjust="spacingAndGlyphs">Mitogen-induced gene 6 (mig6)</text>
<text x="213.79" y="673.90" font-size="24.5" textLength="37.17" lengthAdjust="spacingAndGlyphs">WT</text>
<line x1="191.3" y1="684.9" x2="272.3" y2="684.9" stroke="#231f20" stroke-width="1.8"/>
<text x="121.47" y="700.20" font-size="23.5" textLength="53.27" lengthAdjust="spacingAndGlyphs">EGF</text>
<text x="58.38" y="732.85" font-size="24.5" textLength="116.24" lengthAdjust="spacingAndGlyphs">(25 ng/ml)</text>
<line x1="198.8" y1="709.3" x2="213.2" y2="709.3" stroke="#231f20" stroke-width="1.8"/>
<path d="M244.2,709.3 H258.2 M251.2,702.4 V716.2" stroke="#231f20" stroke-width="1.8"/>
<line x1="283.1" y1="709.3" x2="297.5" y2="709.3" stroke="#231f20" stroke-width="1.8"/>
<line x1="328.40000000000003" y1="709.3" x2="342.8" y2="709.3" stroke="#231f20" stroke-width="1.8"/>
<line x1="373.5" y1="709.3" x2="387.9" y2="709.3" stroke="#231f20" stroke-width="1.8"/>
<line x1="414.8" y1="709.3" x2="429.2" y2="709.3" stroke="#231f20" stroke-width="1.8"/>
<line x1="460.5" y1="709.3" x2="474.9" y2="709.3" stroke="#231f20" stroke-width="1.8"/>
<text x="0" y="0" font-size="25.5" transform="translate(291.4,694.2) rotate(-45)">L858R</text>
<text x="0" y="0" font-size="25.5" transform="translate(336.6,694.2) rotate(-45)">Ex20Ins</text>
<text x="0" y="0" font-size="25.5" transform="translate(381.7,694.2) rotate(-45)">Ex19Del</text>
<text x="0" y="0" font-size="25.5" transform="translate(423.5,694.2) rotate(-45)">L858R T790M</text>
<text x="0" y="0" font-size="25.5" transform="translate(468.7,694.2) rotate(-45)">G719A</text>
<text x="205.29" y="1035.40" font-size="23">1</text>
<text x="244.30" y="1035.40" font-size="23">2</text>
<text x="288.67" y="1035.18" font-size="23">3</text>
<text x="329.48" y="1035.40" font-size="23">4</text>
<text x="373.33" y="1035.18" font-size="23">5</text>
<text x="415.33" y="1035.18" font-size="23">6</text>
<text x="462.09" y="1035.40" font-size="23">7</text>
<text x="497.97" y="745.77" font-size="25.3" textLength="94.80" lengthAdjust="spacingAndGlyphs">p-EGFR</text>
<text x="498.03" y="776.63" font-size="25.3" textLength="91.54" lengthAdjust="spacingAndGlyphs">(Y1086)</text>
<text x="497.52" y="822.27" font-size="25.3" textLength="71.65" lengthAdjust="spacingAndGlyphs">EGFR</text>
<text x="498.17" y="876.33" font-size="25.3" textLength="79.44" lengthAdjust="spacingAndGlyphs">p-Mig6</text>
<text x="497.72" y="935.03" font-size="25.3" textLength="56.69" lengthAdjust="spacingAndGlyphs">Mig6</text>
<text x="498.05" y="991.50" font-size="25.3" textLength="78.50" lengthAdjust="spacingAndGlyphs">β-actin</text>
<text x="739.39" y="690.46" font-size="24.5" textLength="52.47" lengthAdjust="spacingAndGlyphs">PC9</text>
<text x="814.49" y="690.46" font-size="24.5" textLength="99.64" lengthAdjust="spacingAndGlyphs">HCC827</text>
<text x="617.25" y="714.06" font-size="25" textLength="96.10" lengthAdjust="spacingAndGlyphs">Erlotinib</text>
<text x="656.35" y="747.12" font-size="25" textLength="57.50" lengthAdjust="spacingAndGlyphs">(µM)</text>
<text x="736.04" y="727.76" font-size="24.5" textLength="15.81" lengthAdjust="spacingAndGlyphs">0</text>
<text x="774.74" y="727.76" font-size="24.5" textLength="36.45" lengthAdjust="spacingAndGlyphs">0.1</text>
<text x="835.64" y="727.76" font-size="24.5" textLength="16.01" lengthAdjust="spacingAndGlyphs">0</text>
<text x="873.34" y="727.76" font-size="24.5" textLength="36.45" lengthAdjust="spacingAndGlyphs">0.1</text>
<text x="924.87" y="736.80" font-size="25.3" textLength="95.10" lengthAdjust="spacingAndGlyphs">p-EGFR</text>
<text x="924.93" y="767.63" font-size="25.3" textLength="91.44" lengthAdjust="spacingAndGlyphs">(Y1086)</text>
<text x="924.72" y="806.87" font-size="25.3" textLength="71.95" lengthAdjust="spacingAndGlyphs">EGFR</text>
<text x="924.87" y="838.50" font-size="25.3" textLength="80.04" lengthAdjust="spacingAndGlyphs">p-Mig6</text>
<text x="924.42" y="885.70" font-size="25.3" textLength="57.29" lengthAdjust="spacingAndGlyphs">Mig6</text>
<text x="924.75" y="925.40" font-size="25.3" textLength="78.30" lengthAdjust="spacingAndGlyphs">β-actin</text>
<text x="732.79" y="960.70" font-size="23">1</text>
<text x="784.60" y="960.70" font-size="23">2</text>
<text x="836.27" y="960.48" font-size="23">3</text>
<text x="887.38" y="960.70" font-size="23">4</text>
</g>
</svg>
</body></html>
